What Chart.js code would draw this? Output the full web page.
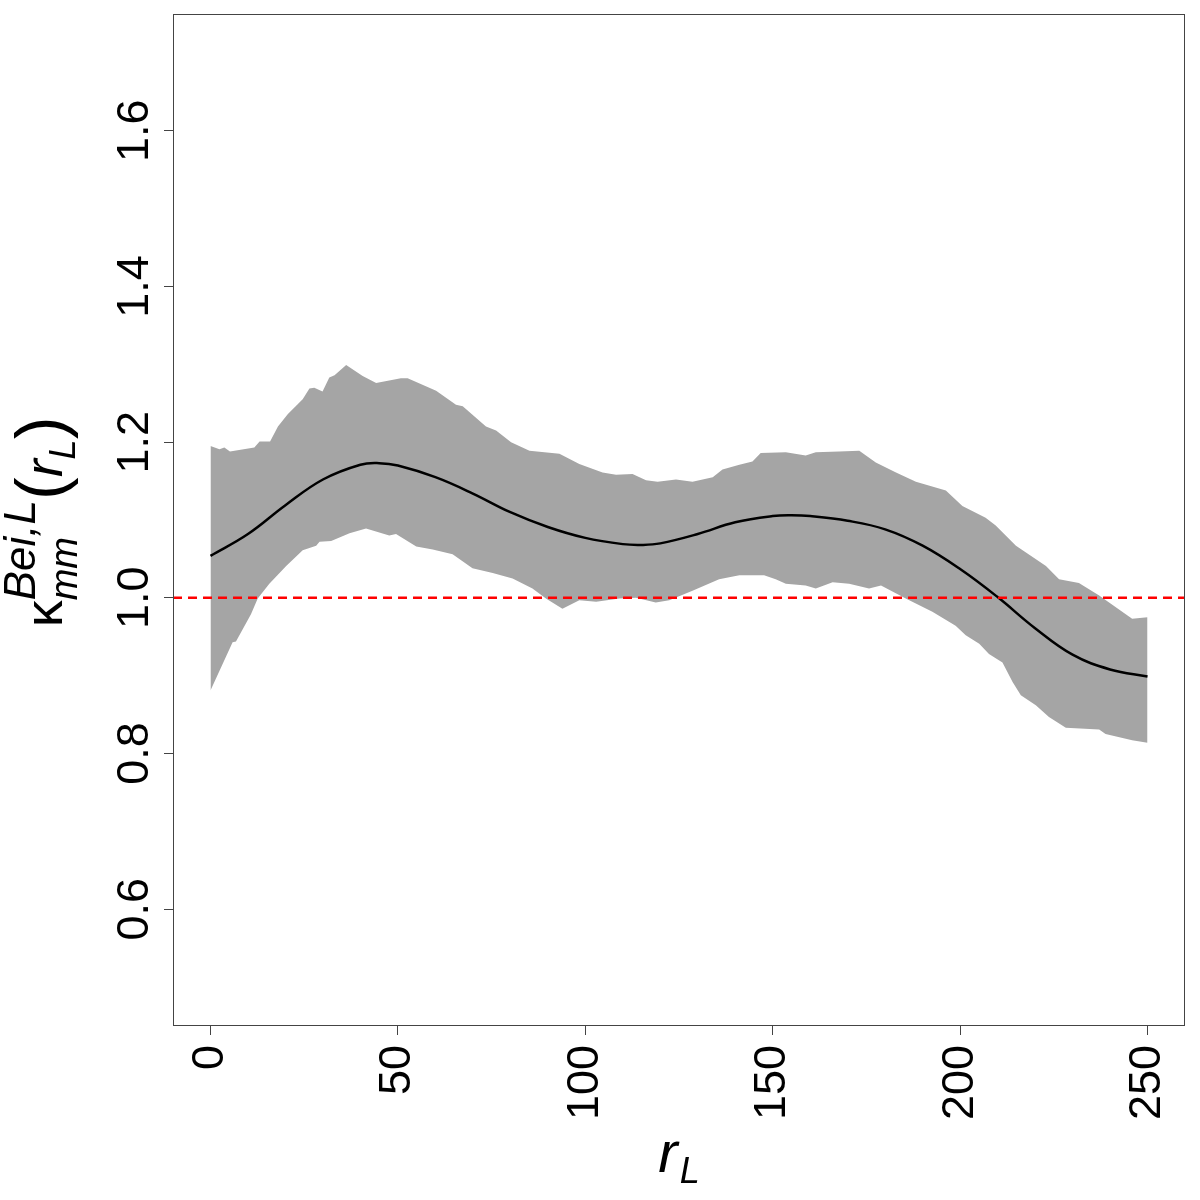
<!DOCTYPE html>
<html lang="en">
<head>
  <meta charset="UTF-8" />
  <title>Kappa mm Bei,L</title>
  <script src="https://cdn.jsdelivr.net/npm/chart.js"></script>
  <style>
    body {
      margin: 0;
      background: #fff;
    }
    #chartContainer {
      width: 1200px;
      height: 1200px;
    }
  </style>
</head>
<body>
  <div id="chartContainer">
    <canvas id="myChart" width="1200" height="1200"></canvas>
  </div>

<script>
  // Smooth estimate (black line)
  const meanX = [0, 10, 20, 30, 40, 45, 50, 60, 70, 80, 90, 100, 110, 115, 120, 130, 140, 150, 155, 160, 170, 180, 190, 200, 210, 220, 230, 240, 250];
  const meanY = [1.054, 1.082, 1.119, 1.152, 1.171, 1.173, 1.170, 1.155, 1.134, 1.110, 1.091, 1.077, 1.069, 1.068, 1.070, 1.082, 1.097, 1.105, 1.106, 1.105, 1.099, 1.088, 1.067, 1.037, 1.001, 0.961, 0.927, 0.908, 0.899];

  // Envelope, upper bound
  const upperX = [0, 2.4, 3.7, 5.2, 11.7, 13.1, 15.9, 18, 20.6, 24.6, 26.4, 27.7, 29.9, 31.7, 33.1, 36.2, 40.6, 44.2, 50.8, 52.6, 60.2, 65.5, 67.3, 73.5, 76.2, 80.2, 85.1, 93.1, 98.4, 104.6, 108.2, 112.6, 116.2, 119.3, 124.2, 128.6, 134, 136.6, 141.1, 144.6, 146.8, 153.5, 158.8, 161.5, 167.7, 173.1, 177.5, 182.9, 188.2, 196.2, 200.6, 206.8, 209.5, 214.9, 222.9, 226.4, 231.7, 237.1, 245.9, 250];
  const upperY = [1.195, 1.191, 1.193, 1.188, 1.193, 1.201, 1.201, 1.220, 1.236, 1.255, 1.269, 1.270, 1.265, 1.283, 1.286, 1.299, 1.285, 1.276, 1.282, 1.282, 1.266, 1.248, 1.246, 1.220, 1.215, 1.200, 1.189, 1.185, 1.172, 1.161, 1.158, 1.159, 1.151, 1.149, 1.152, 1.149, 1.155, 1.165, 1.171, 1.175, 1.186, 1.187, 1.183, 1.187, 1.188, 1.189, 1.174, 1.161, 1.149, 1.138, 1.118, 1.103, 1.093, 1.067, 1.041, 1.024, 1.019, 1.003, 0.973, 0.975];

  // Envelope, lower bound
  const lowerX = [0, 5.9, 6.8, 10.8, 12.6, 15.7, 20.2, 24.6, 28.2, 29.1, 32.2, 37.1, 41.5, 47.7, 49.5, 54.9, 59.3, 64.6, 69.9, 75.3, 80.6, 85.9, 89.5, 93.9, 98.4, 102.9, 109.1, 113.5, 118.8, 122.4, 128.6, 135.7, 141.1, 147.7, 150.8, 153.5, 158.8, 161.5, 166, 170.4, 175.7, 178.9, 185.5, 192.6, 198.8, 201.5, 205.1, 207.7, 211.3, 214, 216.2, 220.2, 223.7, 228.2, 237.1, 238.8, 245.9, 250];
  const lowerY = [0.881, 0.943, 0.944, 0.979, 0.999, 1.018, 1.041, 1.061, 1.067, 1.072, 1.073, 1.083, 1.089, 1.080, 1.082, 1.066, 1.062, 1.056, 1.038, 1.032, 1.025, 1.012, 0.999, 0.986, 0.997, 0.995, 0.999, 1.000, 0.994, 0.997, 1.009, 1.024, 1.029, 1.029, 1.024, 1.018, 1.016, 1.012, 1.020, 1.018, 1.012, 1.016, 0.999, 0.982, 0.964, 0.952, 0.941, 0.928, 0.917, 0.892, 0.875, 0.862, 0.847, 0.833, 0.831, 0.825, 0.817, 0.814];

  // Axes
  const xTicks = [0, 50, 100, 150, 200, 250];
  const yTicks = [0.6, 0.8, 1.0, 1.2, 1.4, 1.6];
  const xMin = -10, xMax = 260;
  const yMin = 0.45, yMax = 1.75;
  const refValue = 1.0;

  const FONT = '"Liberation Sans", Arial, sans-serif';

  function toPoints(xs, ys) {
    return xs.map((x, i) => ({ x: x, y: ys[i] }));
  }

  // frame box + math-style axis titles
  const decor = {
    id: 'decor',
    afterDraw(chart) {
      const ctx = chart.ctx;
      const a = chart.chartArea;
      ctx.save();
      ctx.strokeStyle = '#444';
      ctx.lineWidth = 1;
      ctx.strokeRect(a.left + 0.5, a.top + 0.5, a.right - a.left - 1, a.bottom - a.top - 1);

      ctx.fillStyle = '#000';
      ctx.textBaseline = 'alphabetic';
      ctx.textAlign = 'left';

      // x title: r_L
      const fr = 'italic 58px ' + FONT;
      const fl = 'italic 36px ' + FONT;
      ctx.font = fr;
      const wr = ctx.measureText('r').width;
      ctx.font = fl;
      const wl = ctx.measureText('L').width;
      const cx = (a.left + a.right) / 2;
      let x0 = cx - (wr + 2 + wl) / 2;
      ctx.font = fr;
      ctx.fillText('r', x0, 1172);
      ctx.font = fl;
      ctx.fillText('L', x0 + wr + 2, 1183);

      // y title: kappa_mm^{Bei,L}(r_L), rotated
      const parts = [
        { t: '\u03BA', f: '54px ' + FONT, dy: 0 },
        { t: 'Bei,L', f: 'italic 44px ' + FONT, dy: -27, sup: true },
        { t: 'mm', f: 'italic 38px ' + FONT, dy: 15, sub: true },
        { t: '(', f: '68px ' + FONT, dy: 2 },
        { t: 'r', f: 'italic 54px ' + FONT, dy: 0 },
        { t: 'L', f: 'italic 36px ' + FONT, dy: 13 },
        { t: ')', f: '68px ' + FONT, dy: 2 }
      ];
      // layout along the text direction
      let s = 0;
      let pendingSup = 0;
      parts.forEach(p => {
        ctx.font = p.f;
        p.w = ctx.measureText(p.t).width;
        if (p.sub) {
          p.s = s - pendingSup;
          s = Math.max(s, p.s + p.w);
        } else {
          p.s = s;
          s += p.w;
          pendingSup = p.sup ? p.w : 0;
        }
      });
      const total = s;
      const centerY = 522;
      ctx.translate(62, centerY + total / 2);
      ctx.rotate(-Math.PI / 2);
      parts.forEach(p => {
        ctx.font = p.f;
        ctx.fillText(p.t, p.s, p.dy);
      });
      ctx.restore();
    }
  };

  const ctx = document.getElementById('myChart').getContext('2d');
  const chart = new Chart(ctx, {
    type: 'line',
    data: {
      datasets: [
        {
          label: 'reference',
          data: [{ x: xMin, y: refValue }, { x: xMax, y: refValue }],
          borderColor: '#FF0000',
          borderWidth: 2.5,
          borderDash: [9, 6],
          pointRadius: 0,
          fill: false
        },
        {
          label: 'estimate',
          data: toPoints(meanX, meanY),
          borderColor: '#000000',
          borderWidth: 2.5,
          pointRadius: 0,
          tension: 0.4,
          fill: false
        },
        {
          label: 'lower',
          data: toPoints(lowerX, lowerY),
          borderWidth: 0,
          borderColor: 'rgba(0,0,0,0)',
          pointRadius: 0,
          fill: false
        },
        {
          label: 'upper',
          data: toPoints(upperX, upperY),
          borderWidth: 0,
          borderColor: 'rgba(0,0,0,0)',
          backgroundColor: '#A5A5A5',
          pointRadius: 0,
          fill: '-1'
        }
      ]
    },
    options: {
      responsive: false,
      animation: false,
      devicePixelRatio: 1,
      layout: { padding: { top: 14, right: 15, left: 0, bottom: 0 } },
      plugins: {
        legend: { display: false },
        tooltip: { enabled: false }
      },
      scales: {
        x: {
          type: 'linear',
          min: xMin,
          max: xMax,
          afterBuildTicks: s => { s.ticks = xTicks.map(v => ({ value: v })); },
          afterFit: s => { s.height = 174; s.paddingLeft = 0; s.paddingRight = 0; },
          grid: { drawOnChartArea: false, tickLength: 9, color: '#444', lineWidth: 1 },
          border: { display: false },
          ticks: {
            autoSkip: false,
            minRotation: 90,
            maxRotation: 90,
            padding: 10,
            color: '#000',
            font: { family: FONT, size: 45 }
          }
        },
        y: {
          type: 'linear',
          min: yMin,
          max: yMax,
          afterBuildTicks: s => { s.ticks = yTicks.map(v => ({ value: v })); },
          afterFit: s => { s.width = 173; s.paddingTop = 0; s.paddingBottom = 0; },
          grid: { drawOnChartArea: false, tickLength: 9, color: '#444', lineWidth: 1 },
          border: { display: false },
          ticks: {
            autoSkip: false,
            minRotation: 90,
            maxRotation: 90,
            crossAlign: 'center',
            padding: -3,
            color: '#000',
            font: { family: FONT, size: 45 },
            callback: v => v.toFixed(1)
          }
        }
      }
    },
    plugins: [decor]
  });
</script>
</body>
</html>
